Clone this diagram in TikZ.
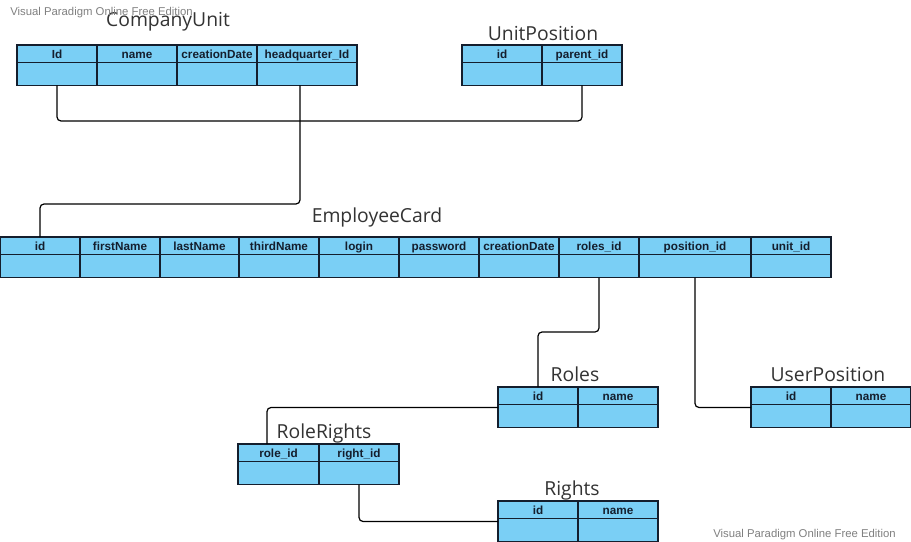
\documentclass[tikz,border=0pt]{standalone}
\usepackage{fontspec}
\setmainfont{Open Sans}
\newfontfamily\arialf{Liberation Sans}
\usetikzlibrary{calc}
\definecolor{cellfill}{RGB}{122,207,245}
\definecolor{cellline}{RGB}{20,30,45}
\definecolor{titlecol}{RGB}{51,51,51}
\definecolor{wmcol}{RGB}{128,128,128}
\tikzset{
 cellbase/.style={draw=cellline, fill=cellfill, line width=0.9pt, inner sep=0pt, outer sep=0pt, anchor=center},
 hcell/.style={cellbase, minimum height=13.125pt, font=\arialf\bfseries\fontsize{8.8}{10}\selectfont, text=cellline, text height=7.5pt, text depth=1pt},
 bcell/.style={cellbase, minimum height=17.25pt},
 title/.style={font=\fontsize{14.5}{17}\selectfont, text=titlecol, anchor=base, inner sep=0pt},
 wmark/.style={font=\arialf\fontsize{8.5}{10}\selectfont, text=wmcol, inner sep=0pt, anchor=base west},
 conn/.style={draw=black, line width=0.9pt, rounded corners=3pt},
}
\newcommand\ercell[5]{%
 \node[hcell, minimum width={(#3-#2)*0.75pt}] (#1h) at ({(#2+#3)/2},{#4+8.75}) {#5};
 \node[bcell, minimum width={(#3-#2)*0.75pt}] (#1b) at ({(#2+#3)/2},{#4+29}) {};
}
\begin{document}
\begin{tikzpicture}[x=0.75pt,y=-0.75pt]
\path[use as bounding box, fill=white] (0,0) rectangle (911,542);

% CompanyUnit
\node[title] (tcu) at (168,27) {CompanyUnit};
\ercell{cu1}{17}{97}{45}{Id}
\ercell{cu2}{97}{177}{45}{name}
\ercell{cu3}{177}{257}{45}{creationDate}
\ercell{cu4}{257}{357}{45}{headquarter\_Id}

% UnitPosition
\node[title] (tup) at (543,41) {UnitPosition};
\ercell{up1}{462}{542}{45}{id}
\ercell{up2}{542}{622}{45}{parent\_id}

% EmployeeCard
\node[title] (tec) at (377,222) {EmployeeCard};
\ercell{ec1}{0}{80}{237}{id}
\ercell{ec2}{80}{160}{237}{firstName}
\ercell{ec3}{160}{239}{237}{lastName}
\ercell{ec4}{239}{319}{237}{thirdName}
\ercell{ec5}{319}{399}{237}{login}
\ercell{ec6}{399}{479}{237}{password}
\ercell{ec7}{479}{559}{237}{creationDate}
\ercell{ec8}{559}{639}{237}{roles\_id}
\ercell{ec9}{639}{751}{237}{position\_id}
\ercell{ec10}{751}{831}{237}{unit\_id}

% Roles
\node[title] (tro) at (575,381) {Roles};
\ercell{ro1}{498}{578}{387}{id}
\ercell{ro2}{578}{658}{387}{name}

% UserPosition
\node[title] (tupo) at (828,381) {UserPosition};
\ercell{upo1}{751}{831}{387}{id}
\ercell{upo2}{831}{911}{387}{name}

% RoleRights
\node[title] (trr) at (324,438) {RoleRights};
\ercell{rr1}{238}{319}{444}{role\_id}
\ercell{rr2}{319}{399}{444}{right\_id}

% Rights
\node[title] (tri) at (572,495) {Rights};
\ercell{ri1}{498}{578}{501}{id}
\ercell{ri2}{578}{658}{501}{name}

% connectors
\coordinate (h1) at (300,121);
\coordinate (h2) at (150,204);
\coordinate (h3) at (570,332);
\draw[conn] (cu1b.south) |- (h1) -| (up2b.south);
\draw[conn] ($(cu4b.south)+(-7,0)$) |- (h2) -| (ec1h.north);
\draw[conn] (ec8b.south) |- (h3) -| (ro1h.north);
\draw[conn] (ec9b.south) |- ($(upo1h.south west)+(0,3)$);
\draw[conn] ($(ro1h.south west)+(0,3)$) -| ($(rr1h.north)+(-11.5,0)$);
\draw[conn] (rr2b.south) |- ($(ri1h.south west)+(0,3)$);

% watermarks
\node[wmark] (wm1) at (10,16) {Visual Paradigm Online Free Edition};
\node[wmark] (wm2) at (713,537) {Visual Paradigm Online Free Edition};
\end{tikzpicture}
\end{document}
